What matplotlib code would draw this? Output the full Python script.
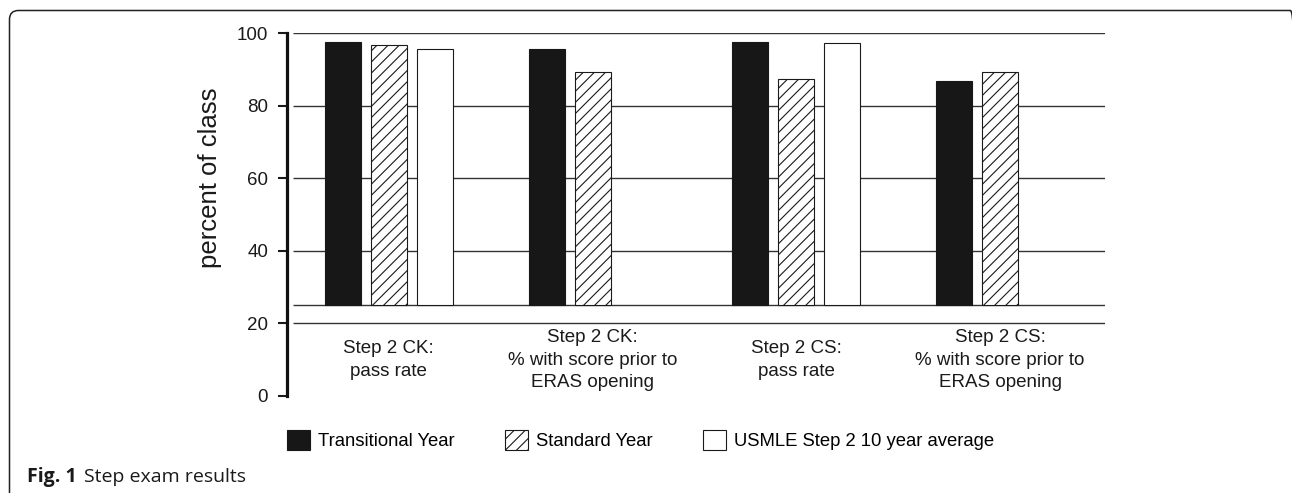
import numpy as np
import matplotlib
matplotlib.use('Agg')
import matplotlib.pyplot as plt
from matplotlib.patches import Patch, FancyBboxPatch
from matplotlib.transforms import IdentityTransform

# values (percent of class)
categories = ['Step 2 CK:\npass rate',
              'Step 2 CK:\n% with score prior to\nERAS opening',
              'Step 2 CS:\npass rate',
              'Step 2 CS:\n% with score prior to\nERAS opening']
transitional = [97.5, 95.6, 97.5, 86.8]
standard = [96.8, 89.2, 87.4, 89.2]
usmle_avg = [95.6, None, 97.3, None]
series_names = ['Transitional Year', 'Standard Year', 'USMLE Step 2 10 year average']
BASE = 25
yticks = [0, 20, 40, 60, 80, 100]
grid_levels = [20, 25, 40, 60, 80, 100]

W, H = 1292, 493
plt.rcParams['font.family'] = ['Liberation Sans', 'DejaVu Sans']
plt.rcParams['hatch.linewidth'] = 0.8
plt.rcParams['hatch.color'] = '#1a1a1a'

fig = plt.figure(figsize=(W / 100, H / 100), dpi=100)
ax = fig.add_axes([287 / W, (H - 396) / H, (1105 - 287) / W, (396 - 33) / H])

x = np.arange(len(categories))
off = 0.2255
bw = 0.176

ax.hlines(grid_levels, -0.47, 3.515, colors='#333333', linewidth=1.0, zorder=1)

ax.bar(x - off, [v - BASE for v in transitional], bw, bottom=BASE,
       color='#171717', edgecolor='#171717', linewidth=0.8, zorder=3)
ax.bar(x, [v - BASE for v in standard], bw, bottom=BASE,
       color='white', edgecolor='#1a1a1a', hatch='///', linewidth=0.8, zorder=3)
ux = [xi + off for xi, v in zip(x, usmle_avg) if v is not None]
uv = [v - BASE for v in usmle_avg if v is not None]
ax.bar(ux, uv, bw, bottom=BASE, color='white', edgecolor='#1a1a1a',
       linewidth=0.8, zorder=3)

for xi, lab in zip(x, categories):
    ax.text(xi, 9.9, lab, ha='center', va='center', fontsize=13.5,
            linespacing=1.45, multialignment='center', color='#1a1a1a')

ax.set_xlim(-0.5, 3.515)
ax.set_ylim(0, 100)
ax.set_xticks([])
ax.set_yticks(yticks)
ax.tick_params(axis='y', direction='out', length=6.5, width=1.5, pad=7,
               labelsize=13.5, colors='#1a1a1a')
for s in ['top', 'right', 'bottom']:
    ax.spines[s].set_visible(False)
ax.spines['left'].set_linewidth(2.3)
ax.spines['left'].set_color('#111111')
ax.set_ylabel('percent of class', fontsize=18.5, color='#1a1a1a')
ax.yaxis.set_label_coords(-0.08, 0.6)

handles = [Patch(facecolor='#171717', edgecolor='#171717', linewidth=0.8),
           Patch(facecolor='white', edgecolor='#1a1a1a', hatch='///', linewidth=0.8),
           Patch(facecolor='white', edgecolor='#1a1a1a', linewidth=0.8)]
fig.legend(handles, series_names, loc='center left',
           bbox_to_anchor=(287 / W, 1 - 440 / H), ncol=3, frameon=False,
           fontsize=13.3, handlelength=1.25, handleheight=1.25,
           handletextpad=0.45, columnspacing=2.7, borderpad=0, borderaxespad=0)

# caption
t1 = fig.text(27 / W, 1 - 477 / H, 'Fig. 1', fontsize=14, fontweight='bold',
              family=['Open Sans', 'DejaVu Sans'], va='center', color='#1a1a1a')
ax.annotate('Step exam results', xy=(1, 0.5), xycoords=t1, xytext=(5, 0),
            textcoords='offset points', va='center', ha='left', fontsize=14,
            family=['Open Sans', 'DejaVu Sans'], color='#1a1a1a',
            annotation_clip=False)

# rounded frame around the figure
frame = FancyBboxPatch((9.5, -30), 1290, H - 10 + 30 - 0.5,
                       boxstyle='round,pad=0,rounding_size=9',
                       transform=IdentityTransform(), facecolor='none',
                       edgecolor='#222222', linewidth=1.1)
fig.patches.append(frame)

fig.savefig('out.png', dpi=100)
